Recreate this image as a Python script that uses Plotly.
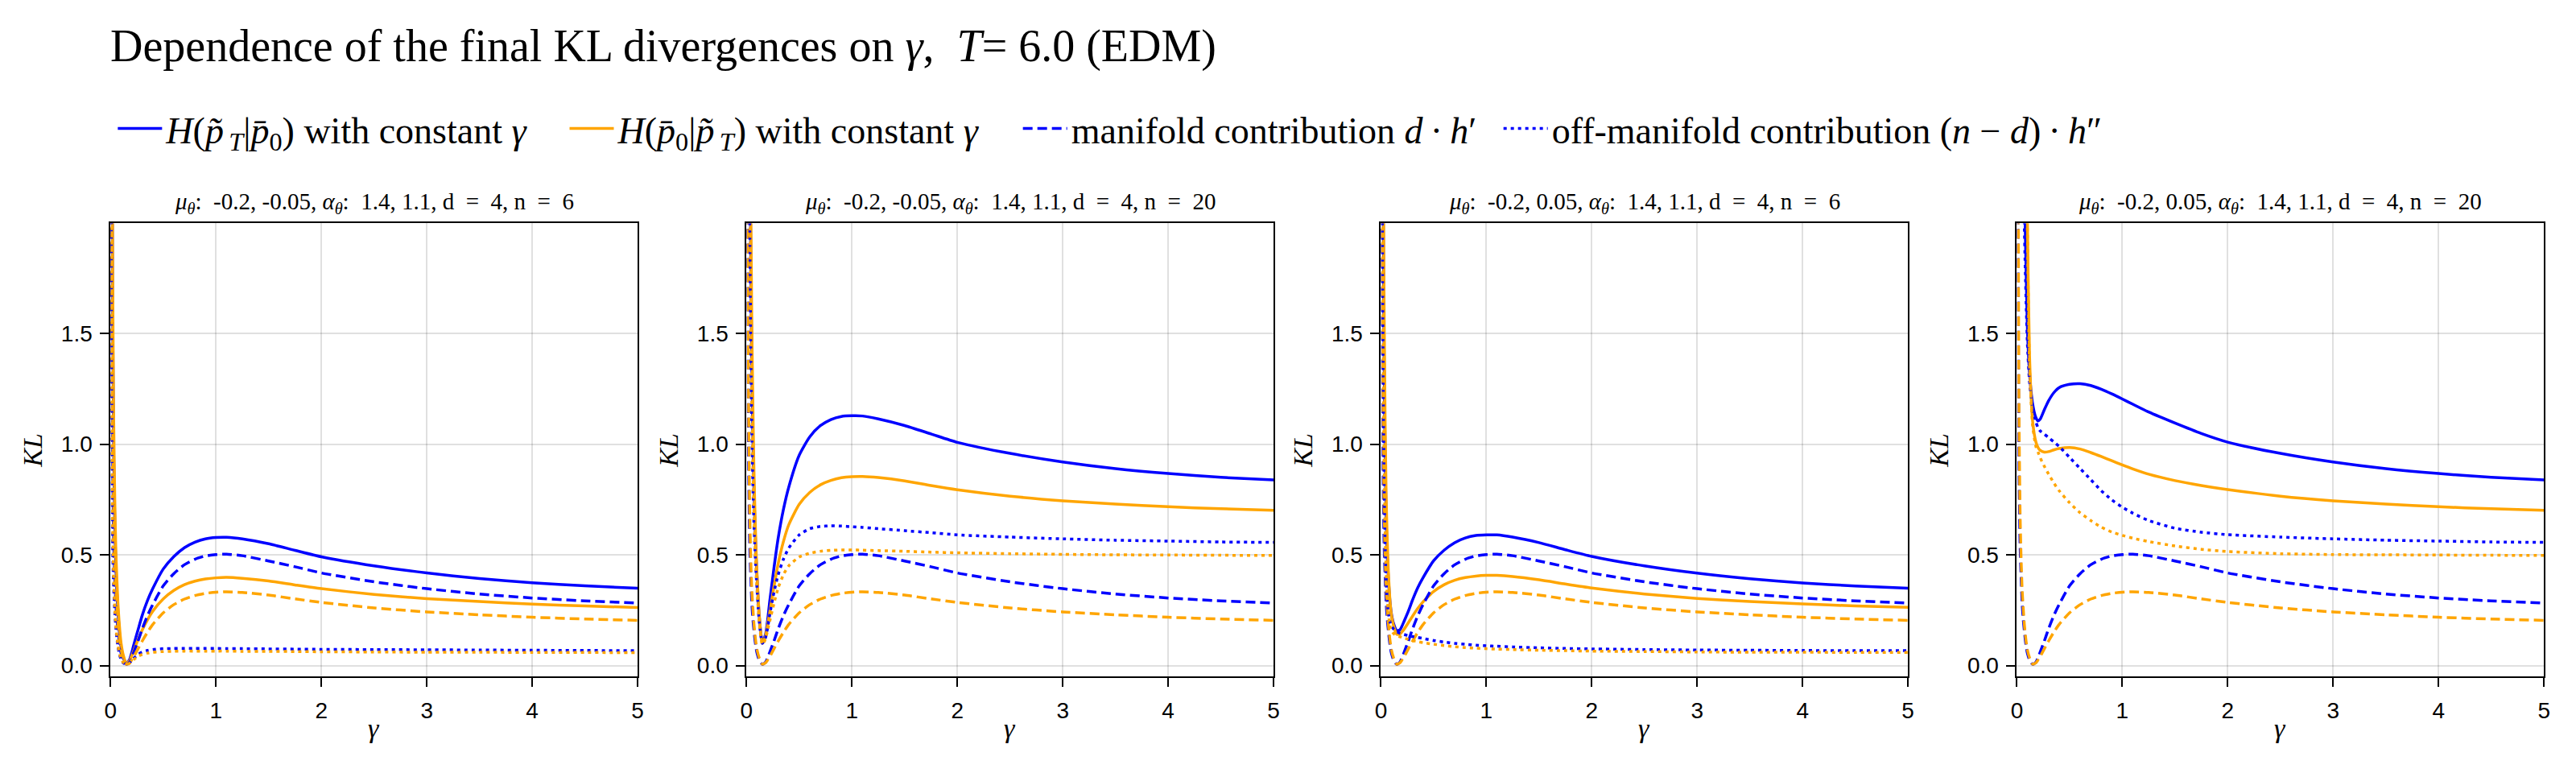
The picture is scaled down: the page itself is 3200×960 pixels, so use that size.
import plotly.graph_objects as go

# ---------------- data ----------------
gamma = [0.005, 0.01, 0.02, 0.03, 0.04, 0.05, 0.06, 0.07, 0.08, 0.09, 0.1, 0.12, 0.15, 0.18, 0.2,
         0.22, 0.26, 0.3, 0.35, 0.4, 0.5, 0.6, 0.7, 0.8, 0.9, 1.0, 1.1, 1.25, 1.5, 1.75, 2.0,
         2.5, 3.0, 3.5, 4.0, 4.5, 5.0]

# manifold contribution d*h' (same in all four panels)
manifold_fwd = [4.0, 2.0, 0.9, 0.55, 0.4, 0.28, 0.21, 0.16, 0.115, 0.08, 0.055, 0.025, 0.005, 0.015, 0.035,
                0.06, 0.11, 0.165, 0.225, 0.275, 0.36, 0.415, 0.455, 0.48, 0.495, 0.501, 0.503, 0.496, 0.472, 0.446, 0.418,
                0.378, 0.347, 0.323, 0.305, 0.292, 0.282]
manifold_rev = [4.0, 2.6, 1.15, 0.7, 0.48, 0.34, 0.26, 0.19, 0.14, 0.1, 0.07, 0.035, 0.006, 0.012, 0.025,
                0.04, 0.075, 0.11, 0.15, 0.185, 0.238, 0.275, 0.3, 0.316, 0.326, 0.331, 0.333, 0.33, 0.318, 0.301, 0.285,
                0.26, 0.242, 0.229, 0.218, 0.21, 0.204]

# panel 1: mu = -0.2, -0.05, n = 6
p1_total_fwd = [5.0, 3.2, 1.6, 0.95, 0.65, 0.45, 0.33, 0.245, 0.175, 0.12, 0.083, 0.037, 0.01, 0.027, 0.057,
                0.093, 0.16, 0.226, 0.293, 0.347, 0.436, 0.492, 0.532, 0.557, 0.572, 0.578, 0.579, 0.572, 0.55, 0.52, 0.491,
                0.45, 0.418, 0.393, 0.374, 0.36, 0.349]
p1_total_rev = [6.0, 4.0, 1.8, 1.1, 0.75, 0.52, 0.39, 0.28, 0.205, 0.145, 0.1, 0.048, 0.01, 0.022, 0.043,
                0.067, 0.116, 0.16, 0.206, 0.245, 0.301, 0.339, 0.365, 0.381, 0.391, 0.396, 0.398, 0.394, 0.382, 0.364, 0.347,
                0.321, 0.302, 0.289, 0.277, 0.269, 0.262]
p1_off_fwd = [2.5, 1.3, 0.52, 0.34, 0.24, 0.17, 0.12, 0.085, 0.06, 0.04, 0.028, 0.012, 0.004, 0.012, 0.022,
              0.033, 0.05, 0.061, 0.068, 0.072, 0.076, 0.077, 0.077, 0.077, 0.077, 0.077, 0.076, 0.076, 0.075, 0.074, 0.073,
              0.072, 0.071, 0.07, 0.069, 0.068, 0.067]
p1_off_rev = [2.8, 1.5, 0.62, 0.38, 0.26, 0.18, 0.13, 0.09, 0.065, 0.045, 0.032, 0.014, 0.004, 0.01, 0.018,
              0.027, 0.041, 0.05, 0.056, 0.06, 0.063, 0.064, 0.065, 0.065, 0.065, 0.065, 0.065, 0.064, 0.064, 0.063, 0.062,
              0.061, 0.06, 0.06, 0.059, 0.059, 0.058]

# panel 2: mu = -0.2, -0.05, n = 20
p2_total_fwd = [8.0, 5.6, 3.8, 2.6, 1.85, 1.35, 1.03, 0.8, 0.635, 0.5, 0.395, 0.225, 0.105, 0.14, 0.205,
                0.29, 0.44, 0.575, 0.705, 0.805, 0.95, 1.033, 1.083, 1.111, 1.125, 1.128, 1.127, 1.114, 1.084, 1.046, 1.008,
                0.958, 0.919, 0.889, 0.867, 0.85, 0.838]
p2_total_rev = [9.0, 6.6, 4.2, 3.0, 2.13, 1.54, 1.18, 0.89, 0.69, 0.53, 0.41, 0.235, 0.1, 0.132, 0.185,
                0.24, 0.355, 0.46, 0.56, 0.635, 0.728, 0.782, 0.816, 0.836, 0.848, 0.853, 0.854, 0.849, 0.834, 0.813, 0.794,
                0.765, 0.744, 0.729, 0.717, 0.708, 0.701]
p2_off_fwd = [4.0, 3.6, 2.9, 2.05, 1.45, 1.07, 0.82, 0.64, 0.52, 0.42, 0.34, 0.2, 0.1, 0.125, 0.17,
              0.23, 0.33, 0.41, 0.48, 0.53, 0.59, 0.618, 0.628, 0.631, 0.63, 0.627, 0.624, 0.618, 0.609, 0.6, 0.59,
              0.58, 0.572, 0.566, 0.562, 0.558, 0.556]
p2_off_rev = [4.5, 4.0, 3.1, 2.3, 1.65, 1.2, 0.92, 0.7, 0.55, 0.43, 0.34, 0.2, 0.095, 0.12, 0.16,
              0.2, 0.28, 0.35, 0.41, 0.45, 0.49, 0.507, 0.516, 0.52, 0.522, 0.522, 0.521, 0.519, 0.516, 0.512, 0.509,
              0.505, 0.502, 0.5, 0.499, 0.498, 0.497]

# panel 3: mu = -0.2, 0.05, n = 6
p3_total_fwd = [8.0, 4.6, 2.3, 1.4, 0.95, 0.66, 0.5, 0.4, 0.325, 0.27, 0.233, 0.19, 0.158, 0.161, 0.178,
                0.2, 0.245, 0.296, 0.352, 0.397, 0.473, 0.521, 0.555, 0.576, 0.587, 0.59, 0.59, 0.58, 0.555, 0.523, 0.493,
                0.45, 0.417, 0.392, 0.373, 0.359, 0.349]
p3_total_rev = [9.0, 5.5, 2.7, 1.65, 1.1, 0.76, 0.57, 0.43, 0.34, 0.27, 0.228, 0.18, 0.141, 0.142, 0.152,
                0.164, 0.193, 0.223, 0.258, 0.288, 0.334, 0.365, 0.385, 0.397, 0.404, 0.407, 0.407, 0.402, 0.387, 0.368, 0.35,
                0.323, 0.303, 0.289, 0.278, 0.269, 0.263]
p3_off_fwd = [4.0, 2.6, 1.4, 0.85, 0.55, 0.38, 0.29, 0.24, 0.21, 0.19, 0.178, 0.165, 0.153, 0.146, 0.143,
              0.14, 0.135, 0.131, 0.127, 0.122, 0.113, 0.106, 0.1, 0.096, 0.092, 0.089, 0.087, 0.084, 0.08, 0.077, 0.075,
              0.072, 0.07, 0.069, 0.068, 0.067, 0.067]
p3_off_rev = [4.5, 2.9, 1.55, 0.95, 0.62, 0.42, 0.31, 0.24, 0.2, 0.17, 0.158, 0.145, 0.135, 0.13, 0.127,
              0.124, 0.118, 0.113, 0.108, 0.103, 0.096, 0.09, 0.085, 0.081, 0.078, 0.076, 0.074, 0.072, 0.069, 0.067, 0.065,
              0.063, 0.061, 0.06, 0.06, 0.059, 0.059]

# panel 4: mu = -0.2, 0.05, n = 20
p4_total_fwd = [8.0, 7.2, 5.5, 4.4, 3.6, 3.0, 2.5, 2.2, 1.95, 1.72, 1.52, 1.32, 1.18, 1.12, 1.105,
                1.112, 1.155, 1.195, 1.232, 1.255, 1.27, 1.273, 1.265, 1.248, 1.227, 1.204, 1.18, 1.145, 1.095, 1.048, 1.009,
                0.958, 0.919, 0.889, 0.867, 0.85, 0.838]
p4_total_rev = [10.0, 9.5, 8.2, 7.0, 5.8, 4.8, 4.0, 3.4, 2.8, 2.4, 2.0, 1.4, 1.1, 1.01, 0.985,
                0.972, 0.964, 0.966, 0.974, 0.98, 0.985, 0.978, 0.962, 0.944, 0.925, 0.906, 0.888, 0.864, 0.835, 0.813, 0.795,
                0.765, 0.744, 0.729, 0.717, 0.708, 0.701]
p4_off_fwd = [6.0, 5.8, 5.2, 4.2, 3.4, 2.8, 2.3, 2.0, 1.78, 1.6, 1.45, 1.28, 1.16, 1.1, 1.075,
              1.06, 1.045, 1.03, 1.01, 0.99, 0.94, 0.89, 0.84, 0.79, 0.748, 0.715, 0.688, 0.655, 0.62, 0.602, 0.591,
              0.58, 0.572, 0.566, 0.562, 0.558, 0.556]
p4_off_rev = [8.0, 7.6, 7.0, 6.0, 5.2, 4.4, 3.8, 3.2, 2.7, 2.3, 1.95, 1.35, 1.08, 0.99, 0.965,
              0.94, 0.9, 0.865, 0.825, 0.79, 0.735, 0.69, 0.655, 0.625, 0.603, 0.588, 0.575, 0.56, 0.54, 0.525, 0.515,
              0.505, 0.501, 0.5, 0.499, 0.498, 0.497]

panel_titles = [
    "<i>μ</i><sub><i>θ</i></sub>:\u00a0 -0.2, -0.05, <i>α</i><sub><i>θ</i></sub>:\u00a0 1.4, 1.1, d\u00a0 =\u00a0 4, n\u00a0 =\u00a0 6",
    "<i>μ</i><sub><i>θ</i></sub>:\u00a0 -0.2, -0.05, <i>α</i><sub><i>θ</i></sub>:\u00a0 1.4, 1.1, d\u00a0 =\u00a0 4, n\u00a0 =\u00a0 20",
    "<i>μ</i><sub><i>θ</i></sub>:\u00a0 -0.2, 0.05, <i>α</i><sub><i>θ</i></sub>:\u00a0 1.4, 1.1, d\u00a0 =\u00a0 4, n\u00a0 =\u00a0 6",
    "<i>μ</i><sub><i>θ</i></sub>:\u00a0 -0.2, 0.05, <i>α</i><sub><i>θ</i></sub>:\u00a0 1.4, 1.1, d\u00a0 =\u00a0 4, n\u00a0 =\u00a0 20",
]
legend_names = [
    "<i>H</i>(<i>p\u0303</i><sub>\u2009<i>T</i></sub>|<i>p\u0304</i><sub>0</sub>) with constant <i>γ</i>",
    "<i>H</i>(<i>p\u0304</i><sub>0</sub>|<i>p\u0303</i><sub>\u2009<i>T</i></sub>) with constant <i>γ</i>",
    "manifold contribution <i>d</i>\u2009·\u2009<i>h</i>\u2032",
    "off-manifold contribution (<i>n</i> − <i>d</i>)\u2009·\u2009<i>h</i>\u2033",
]
x_ticks = [0, 1, 2, 3, 4, 5]
y_ticks = [0.0, 0.5, 1.0, 1.5]
y_tick_text = ["0.0", "0.5", "1.0", "1.5"]
main_title = "Dependence of the final KL divergences on <i>γ</i>,\u2002<i>T</i>= 6.0 (EDM)"

# ---------------- figure ----------------
W, H = 3200, 960
BLUE, ORANGE = "#0000ff", "#ffa500"
SERIF = "Liberation Serif"
SANS = "Liberation Sans"
DASH = "12px,6px"
DOT = "4px,5px"
LW = 3.5

panel_left = [130, 924, 1716, 2510]
panel_w = 658
plot_top, plot_bottom = 278, 842

panels = [
    (p1_total_fwd, p1_total_rev, p1_off_fwd, p1_off_rev),
    (p2_total_fwd, p2_total_rev, p2_off_fwd, p2_off_rev),
    (p3_total_fwd, p3_total_rev, p3_off_fwd, p3_off_rev),
    (p4_total_fwd, p4_total_rev, p4_off_fwd, p4_off_rev),
]

fig = go.Figure()
for i, (tf, tr, of, orv) in enumerate(panels):
    xa = "x" if i == 0 else f"x{i+1}"
    ya = "y" if i == 0 else f"y{i+1}"
    specs = [
        (tf, BLUE, "solid", 0, "legend"),
        (tr, ORANGE, "solid", 1, "legend2"),
        (manifold_fwd, BLUE, DASH, 2, "legend3"),
        (manifold_rev, ORANGE, DASH, None, None),
        (of, BLUE, DOT, 3, "legend4"),
        (orv, ORANGE, DOT, None, None),
    ]
    for vals, col, dash, leg_idx, leg in specs:
        show = (i == 0 and leg_idx is not None)
        kw = dict(legend=leg) if show else {}
        fig.add_trace(go.Scatter(
            x=gamma, y=vals, mode="lines", xaxis=xa, yaxis=ya,
            line=dict(color=col, width=LW, dash=dash, shape="spline", smoothing=0.6),
            name=legend_names[leg_idx] if leg_idx is not None else "",
            showlegend=show, hoverinfo="skip", **kw))

axis_common = dict(
    showgrid=True, gridcolor="rgba(0,0,0,0.12)", gridwidth=2,
    showline=True, mirror=True, linecolor="black", linewidth=2,
    ticks="outside", ticklen=11, tickwidth=2, tickcolor="black",
    zeroline=False, tickfont=dict(family=SANS, size=28, color="black"),
)
layout = dict(
    width=W, height=H, margin=dict(l=0, r=0, t=0, b=0),
    paper_bgcolor="white", plot_bgcolor="white", showlegend=True,
)
annotations = []
for i in range(4):
    x0 = panel_left[i] / W
    x1 = (panel_left[i] + panel_w) / W
    xk = "xaxis" if i == 0 else f"xaxis{i+1}"
    yk = "yaxis" if i == 0 else f"yaxis{i+1}"
    layout[xk] = dict(domain=[x0, x1], range=[0, 5], tickvals=x_ticks,
                      ticktext=[str(t) for t in x_ticks], anchor="y" if i == 0 else f"y{i+1}",
                      ticklabelstandoff=5, **axis_common)
    layout[yk] = dict(domain=[(H - plot_bottom) / H, (H - plot_top) / H], range=[-0.05, 1.997],
                      tickvals=y_ticks, ticktext=y_tick_text, anchor="x" if i == 0 else f"x{i+1}",
                      ticklabelstandoff=4, **axis_common)
    cx = (panel_left[i] + panel_w / 2) / W
    annotations.append(dict(text=panel_titles[i], x=cx, y=(H - 253) / H, xref="paper", yref="paper",
                            xanchor="center", yanchor="middle", showarrow=False,
                            font=dict(family=SERIF, size=29, color="black")))
    annotations.append(dict(text="<i>γ</i>", x=cx, y=(H - 906) / H, xref="paper", yref="paper",
                            xanchor="center", yanchor="middle", showarrow=False,
                            font=dict(family=SERIF, size=34, color="black")))
    annotations.append(dict(text="<i>KL</i>", x=(panel_left[i] - 97) / W, y=(H - 560) / H,
                            xref="paper", yref="paper", xanchor="center", yanchor="middle",
                            textangle=-90, showarrow=False,
                            font=dict(family=SERIF, size=34, color="black")))

annotations.append(dict(text=main_title, x=128 / W, y=(H - 58) / H, xref="paper", yref="paper",
                        xanchor="left", yanchor="middle", showarrow=False,
                        font=dict(family=SERIF, size=56, color="black")))
layout["annotations"] = annotations

legend_x = [134, 698, 1264, 1864]
for k, lx in enumerate(legend_x):
    key = "legend" if k == 0 else f"legend{k+1}"
    layout[key] = dict(x=lx / W, y=(H - 160) / H, xanchor="left", yanchor="middle",
                       orientation="h", bgcolor="rgba(0,0,0,0)", borderwidth=0,
                       itemwidth=55, font=dict(family=SERIF, size=46, color="black"))

fig.update_layout(**layout)
fig.write_html("out.html")
